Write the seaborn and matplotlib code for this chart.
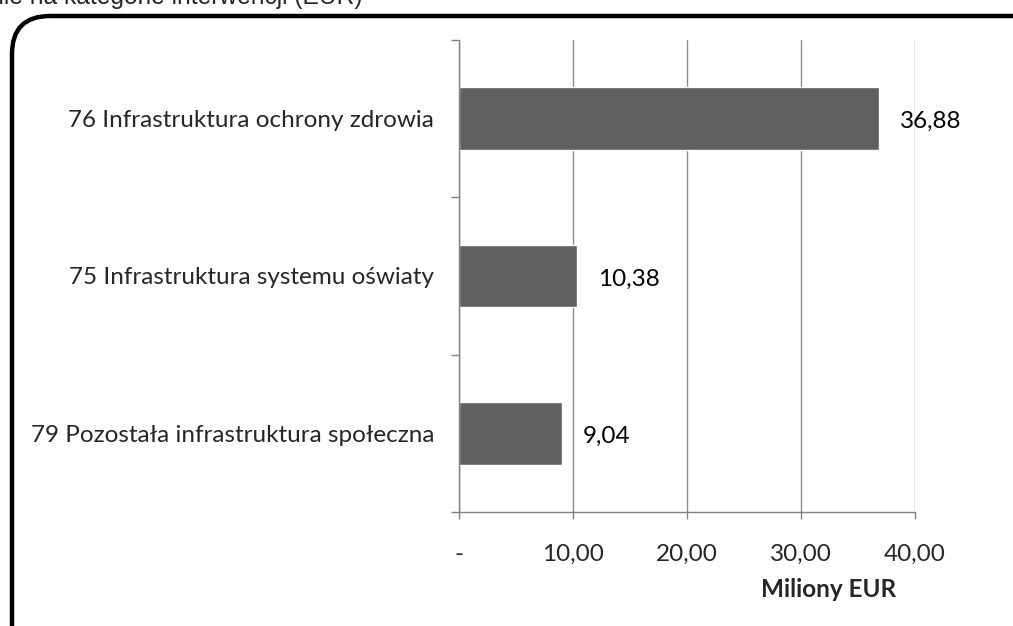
import numpy as np
import pandas as pd
import matplotlib
matplotlib.use("Agg")
import matplotlib.pyplot as plt
import seaborn as sns
from matplotlib.patches import FancyBboxPatch

# data
categories = ["76 Infrastruktura ochrony zdrowia",
              "75 Infrastruktura systemu oświaty",
              "79 Pozostała infrastruktura społeczna"]
values = [36.88, 10.38, 9.04]
value_labels = ["36,88", "10,38", "9,04"]
xticks = [0, 10, 20, 30, 40]
xtick_labels = ["-", "10,00", "20,00", "30,00", "40,00"]

df = pd.DataFrame({"kategoria": categories, "wartosc": values})

sns.set_style("white")
plt.rcParams["font.family"] = ["Lato", "DejaVu Sans"]
fs = 17.5

fig = plt.figure(figsize=(10.13, 6.26), dpi=100)
ax = fig.add_axes([459 / 1013, 1 - 512 / 626, (915 - 459) / 1013, (512 - 40) / 626])

sns.barplot(data=df, x="wartosc", y="kategoria", color="#606060",
            saturation=1, width=0.4, ax=ax, orient="h")

ax.set_xlim(0, 40)
ax.set_ylim(2.5, -0.5)
ax.set_xticks(xticks)
ax.set_xticklabels(xtick_labels, fontsize=fs)
ax.tick_params(axis="x", bottom=True, length=5, width=1, color="#808080", pad=18, direction="out")
ax.tick_params(axis="y", which="major", left=True, length=0, labelsize=fs, pad=18)
ax.set_yticks([-0.5, 0.5, 1.5, 2.5], minor=True)
ax.tick_params(axis="y", which="minor", left=True, length=6, width=1, color="#808080", direction="out")
ax.xaxis.grid(True, color="#8c8c8c", linewidth=1)
ax.set_axisbelow(True)
ax.set_ylabel("")
ax.set_xlabel("Miliony EUR", fontsize=fs, fontweight="bold")
ax.xaxis.set_label_coords(0.81, -0.14)

for s in ["top", "right"]:
    ax.spines[s].set_visible(False)
for s in ["left", "bottom"]:
    ax.spines[s].set_color("#808080")
    ax.spines[s].set_linewidth(1)

for i, (v, lab) in enumerate(zip(values, value_labels)):
    ax.text(v + 1.8, i + 0.02, lab, va="center", ha="left", fontsize=fs, color="black")

# rounded chart frame
frame = FancyBboxPatch((12, -40), 1040, 650, boxstyle="round,pad=0,rounding_size=38",
                       transform=None, fill=False, edgecolor="black", linewidth=3.2,
                       clip_on=False)
fig.patches.append(frame)

# heading above the chart, cut off by the top edge as in the source image
fig.text(363 / 1013, 1.004, "Dofinansowanie na kategorie interwencji (EUR)", fontsize=17.7,
         family=["Liberation Sans", "DejaVu Sans"], ha="right", va="center")

fig.savefig("out.png", dpi=100)
